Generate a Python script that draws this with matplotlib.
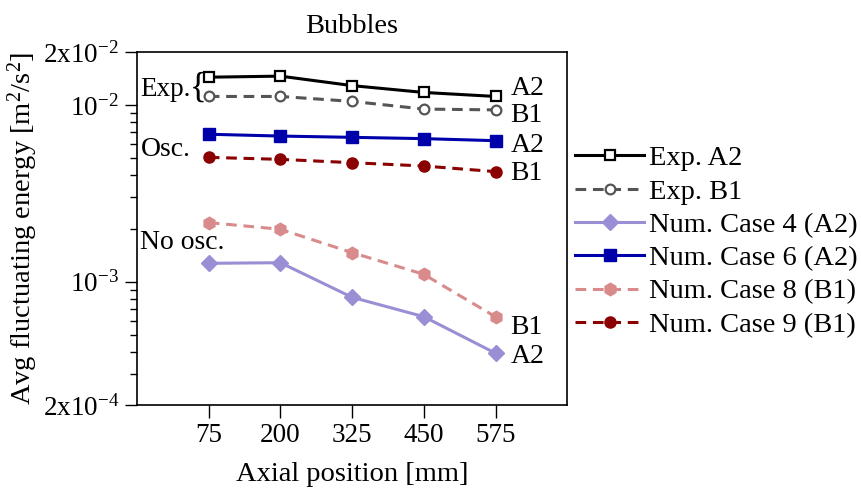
import matplotlib
matplotlib.use("Agg")
import matplotlib.pyplot as plt
from matplotlib.ticker import FixedLocator, LogLocator, NullFormatter

plt.rcParams["font.family"] = "Liberation Serif"
plt.rcParams["mathtext.fontset"] = "custom"
plt.rcParams["mathtext.rm"] = "Liberation Serif"
plt.rcParams["mathtext.it"] = "Liberation Serif:italic"

positions = [75, 200, 325, 450, 575]

exp_a2 = [0.0144, 0.0146, 0.0129, 0.0118, 0.0112]
exp_b1 = [0.0112, 0.0112, 0.0105, 0.0095, 0.0094]
case4_a2 = [0.00127, 0.00128, 0.000815, 0.000633, 0.000393]
case6_a2 = [0.00684, 0.00668, 0.00657, 0.00646, 0.00629]
case8_b1 = [0.00216, 0.00198, 0.00146, 0.00110, 0.000632]
case9_b1 = [0.00506, 0.00493, 0.00472, 0.00452, 0.00420]

ytick_vals = [2e-4, 1e-3, 1e-2, 2e-2]
ytick_labels = [r"2x10$^{-4}$", r"10$^{-3}$", r"10$^{-2}$", r"2x10$^{-2}$"]


def main():
    fig = plt.figure(figsize=(8.62, 4.93), dpi=100)
    ax = fig.add_axes([0.159, 0.1785, 0.499, 0.716])

    dash = (0, (3.5, 2.2))
    ax.plot(positions, exp_a2, color="black", lw=2.2, marker="s", ms=7,
            mfc="white", mec="black", mew=1.6, label="Exp. A2")
    ax.plot(positions, exp_b1, color="#555555", lw=2.2, ls=dash, marker="o",
            ms=7, mfc="white", mec="#555555", mew=1.6, label="Exp. B1")
    ax.plot(positions, case4_a2, color="#9a8fd4", lw=2.2, marker="D", ms=8,
            label="Num. Case 4 (A2)")
    ax.plot(positions, case6_a2, color="#0000aa", lw=2.2, marker="s", ms=8,
            label="Num. Case 6 (A2)")
    ax.plot(positions, case8_b1, color="#d98a8a", lw=2.2, ls=dash, marker="h",
            ms=9, label="Num. Case 8 (B1)")
    ax.plot(positions, case9_b1, color="#8b0000", lw=2.2, ls=dash, marker="o",
            ms=8, label="Num. Case 9 (B1)")

    ax.set_yscale("log")
    ax.set_ylim(2e-4, 2e-2)
    ax.set_xlim(-50, 700)
    ax.set_xticks(positions)
    ax.yaxis.set_major_locator(FixedLocator(ytick_vals))
    ax.set_yticklabels(ytick_labels)
    ax.yaxis.set_minor_locator(LogLocator(base=10, subs=range(2, 10)))
    ax.yaxis.set_minor_formatter(NullFormatter())

    ax.tick_params(axis="both", which="major", direction="out", length=9,
                   width=1, labelsize=19.5, pad=4)
    ax.tick_params(axis="y", which="minor", direction="out", length=5, width=1)
    for s in ax.spines.values():
        s.set_linewidth(1.2)

    ax.set_title("Bubbles", fontsize=20.5, pad=14)
    ax.set_xlabel("Axial position [mm]", fontsize=20.5, labelpad=10)
    ax.set_ylabel("Avg fluctuating energy [m$^2$/s$^2$]", fontsize=20.5,
                  labelpad=2)

    # group labels on the left
    ax.text(-45, 0.01234, "Exp.", fontsize=19.5, va="center", ha="left")
    ax.text(56, 0.0124, "{", fontsize=25, va="center", ha="center")
    ax.text(-43, 0.00564, "Osc.", fontsize=20, va="center", ha="left")
    ax.text(-45, 0.001656, "No osc.", fontsize=20, va="center", ha="left")

    # end labels
    end_labels = [("A2", 0.0125), ("B1", 0.00868), ("A2", 0.00594),
                  ("B1", 0.00412), ("B1", 0.000553), ("A2", 0.000379)]
    for txt, yv in end_labels:
        ax.text(601, yv, txt, fontsize=20, va="center", ha="left")

    ax.legend(loc="center left", bbox_to_anchor=(1.019, 0.463), frameon=False,
              fontsize=20.5, handlelength=2.4, handletextpad=0.2,
              labelspacing=0.26, borderpad=0, borderaxespad=0)

    fig.savefig("out.png", dpi=100)


if __name__ == "__main__":
    main()
